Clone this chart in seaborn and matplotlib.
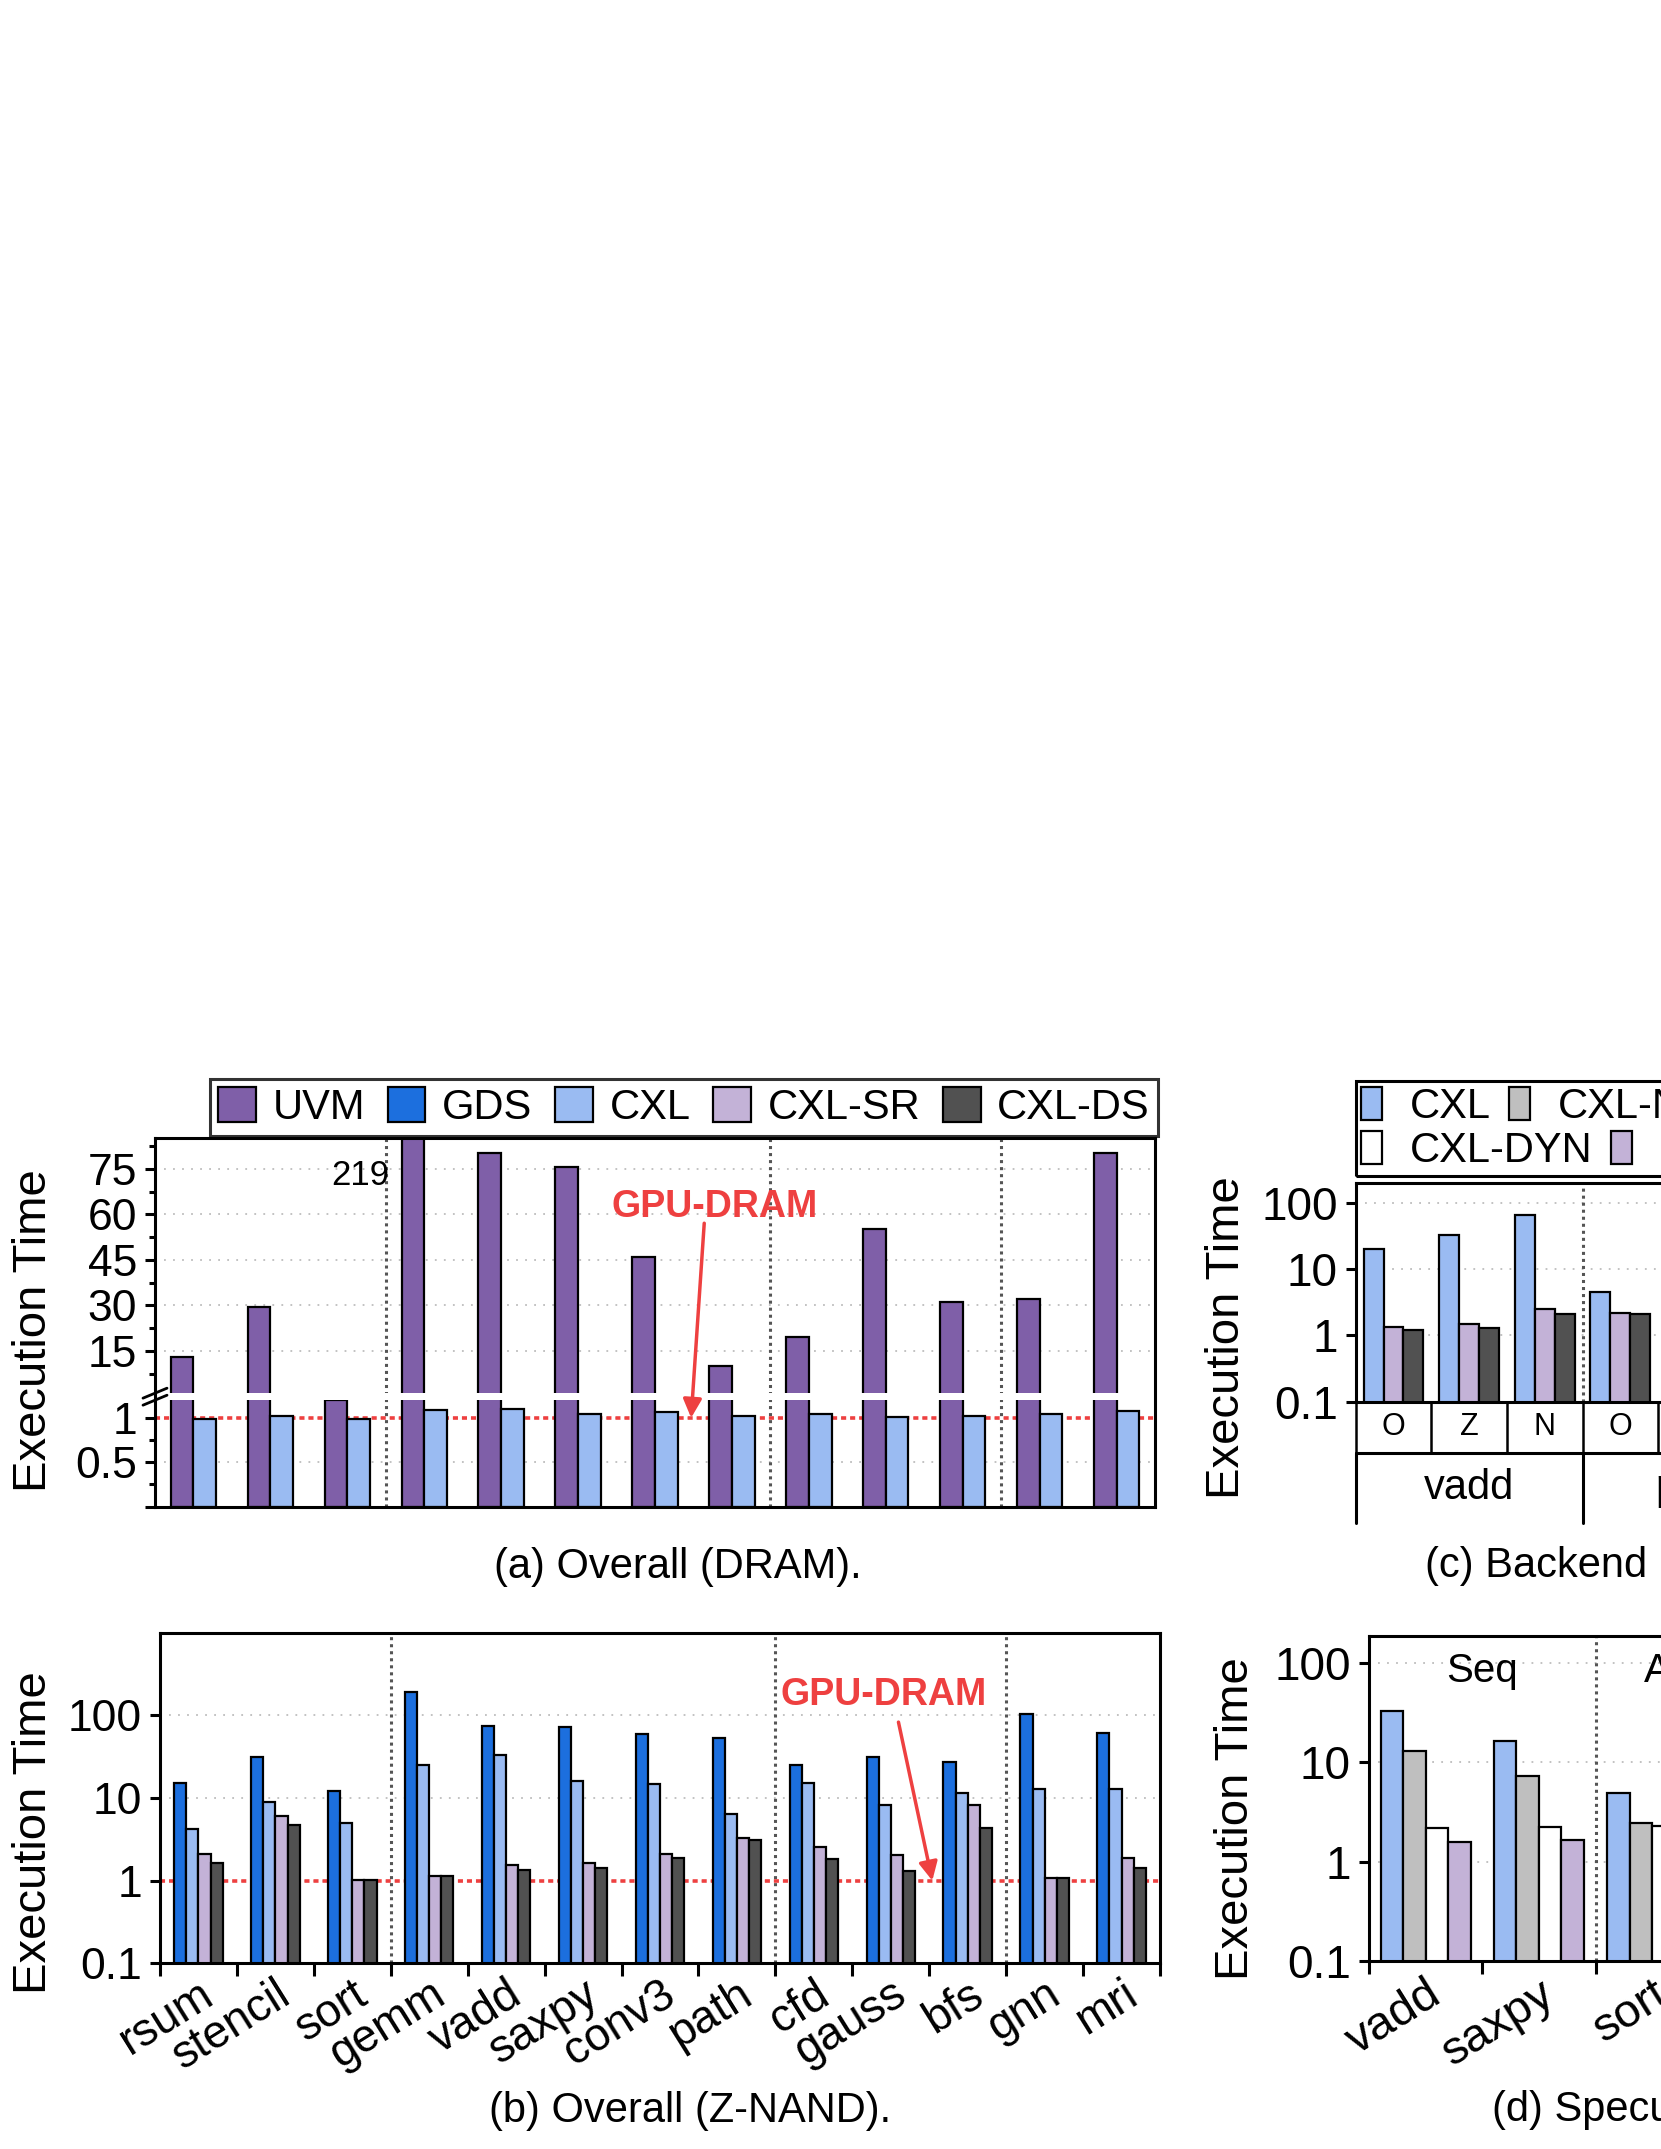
import numpy as np
import pandas as pd
import matplotlib
matplotlib.use("Agg")
import matplotlib.pyplot as plt
import seaborn as sns
from matplotlib.patches import Patch, Rectangle
from matplotlib.ticker import NullLocator
from matplotlib.transforms import blended_transform_factory

# ---------------- data ----------------
apps = ["rsum", "stencil", "sort", "gemm", "vadd", "saxpy", "conv3",
        "path", "cfd", "gauss", "bfs", "gnn", "mri"]

# (a) Overall (DRAM)
dram_uvm = [13.1, 29.6, 1.2, 219, 80.2, 75.8, 46.1, 10.1, 19.4, 55.1, 31.2, 32.2, 80.3]
dram_cxl = [0.99, 1.02, 0.99, 1.085, 1.10, 1.04, 1.06, 1.02, 1.04, 1.01, 1.02, 1.04, 1.08]

# (b) Overall (Z-NAND)
znand_gds = [15.4, 31.7, 12.2, 192, 74, 73, 58.8, 53.7, 25.1, 31.7, 27.6, 104.8, 60.6]
znand_cxl = [4.2, 8.97, 4.97, 24.9, 32.8, 16.1, 14.7, 6.38, 15.4, 8.19, 11.4, 13.0, 13.0]
znand_sr = [2.1, 5.98, 1.03, 1.13, 1.56, 1.62, 2.1, 3.27, 2.53, 2.06, 8.19, 1.07, 1.90]
znand_ds = [1.62, 4.7, 1.03, 1.13, 1.36, 1.42, 1.86, 3.13, 1.83, 1.32, 4.28, 1.07, 1.41]

# (c) Backend
backend_apps = ["vadd", "vadd", "vadd", "path"]
backend_media = ["O", "Z", "N", "O"]
backend_cxl = [20.2, 32.4, 65, 4.46]
backend_sr = [1.32, 1.48, 2.5, 2.17]
backend_ds = [1.22, 1.29, 2.1, 2.1]
backend_groups = ["vadd", "path"]

# (d) Speculative read
spec_apps = ["vadd", "saxpy", "sort"]
spec_cxl = [33, 16.2, 4.95]
spec_ndp = [12.9, 7.2, 2.44]
spec_dyn = [2.19, 2.25, 2.3]
spec_sr = [1.56, 1.63, np.nan]
spec_sections = ["Seq", "Access"]

COLORS = {
    "UVM": "#7F5FA8",
    "GDS": "#1C6FDE",
    "CXL": "#9ABBF2",
    "CXL-SR": "#C3B2D7",
    "CXL-DS": "#515151",
    "CXL-NDP": "#BFBFBF",
    "CXL-DYN": "#FFFFFF",
}
RED = "#EE4040"
SEP = "#555555"

# ---------------- style ----------------
sns.set_style("ticks")
plt.rcParams["font.family"] = ["Liberation Sans", "DejaVu Sans"]
plt.rcParams.update({
    "text.color": "black", "axes.labelcolor": "black",
    "xtick.color": "black", "ytick.color": "black",
    "axes.edgecolor": "black", "axes.linewidth": 2.2,
})

W, H, DPI = 1661, 2149, 100
fig = plt.figure(figsize=(W / DPI, H / DPI), dpi=DPI)


def rect(left, top, right, bottom):
    return [left / W, 1 - bottom / H, (right - left) / W, (bottom - top) / H]


ax_a = fig.add_axes(rect(155, 1137.5, 1155, 1506.7))
ax_b = fig.add_axes(rect(160, 1632.7, 1160, 1963.3))
ax_c = fig.add_axes(rect(1355.7, 1183, 1355.7 + 6 * 75.6, 1401.7))
ax_d = fig.add_axes(rect(1369, 1636.2, 1369 + 5 * 113.3, 1961))


def draw_bars(ax, cats, series, width):
    frames = [pd.DataFrame({"app": cats, "cfg": name, "val": vals}) for name, vals in series.items()]
    df = pd.concat(frames, ignore_index=True).dropna()
    sns.barplot(data=df, x="app", y="val", hue="cfg", order=list(dict.fromkeys(cats)),
                hue_order=list(series), palette={k: COLORS[k] for k in series},
                width=width, edgecolor="black", linewidth=1.6, saturation=1,
                errorbar=None, legend=False, ax=ax, zorder=2)
    ax.set_xlabel("")
    ax.set_ylabel("")


def common_y(ax, size=32):
    ax.set_axisbelow(True)
    ax.yaxis.grid(True, which="major", ls=(0, (1, 4)), color="#BDBDBD", lw=1.3)
    ax.tick_params(axis="y", which="major", direction="out", length=7, width=2.2,
                   labelsize=size, pad=6, left=True)
    ax.tick_params(axis="y", which="minor", direction="out", length=4, width=2.2, left=True)
    for s in ax.spines.values():
        s.set_linewidth(2.2)
        s.set_visible(True)


def ylabel(ax, x, y):
    ax.set_ylabel("Execution Time", fontsize=34, va="center")
    ax.yaxis.set_label_coords(x, y)


def group_xticks(ax, names, n_bound, size, pad):
    # ticks on the group boundaries, names under the group centres
    ax.set_xticks(np.arange(-0.5, n_bound), [""] * (n_bound + 1))
    ax.set_xticks(np.arange(len(names)), names, minor=True, rotation=32,
                  ha="right", rotation_mode="anchor", fontsize=size)
    ax.tick_params(axis="x", which="major", direction="out", length=9, width=2.2, bottom=True)
    ax.tick_params(axis="x", which="minor", length=0, pad=pad, bottom=True)


# ---------------- (a) DRAM, broken axis ----------------
def brk_fwd(v):
    v = np.asarray(v, dtype=float)
    return np.where(v <= 1.2, v * 88.8, 113.4 + (v - 1.0) * 3.027)


def brk_inv(p):
    p = np.asarray(p, dtype=float)
    return np.where(p <= 106.56, p / 88.8,
                    np.where(p >= 114.0, 1.0 + (p - 113.4) / 3.027, 1.2))


draw_bars(ax_a, apps, {"UVM": dram_uvm, "CXL": dram_cxl}, 0.59)
ax_a.set_yscale("function", functions=(brk_fwd, brk_inv))
ax_a.set_ylim(0, 85.4)
ax_a.set_xlim(-0.5, len(apps) - 0.5)
ax_a.set_yticks([0, 0.5, 1, 15, 30, 45, 60, 75],
                ["", "0.5", "1", "15", "30", "45", "60", "75"])
ax_a.set_yticks([0.25, 0.75, 7.5, 22.5, 37.5, 52.5, 67.5, 82.5], minor=True)
ax_a.set_xticks([])
common_y(ax_a)
ylabel(ax_a, -0.121, 0.478)
ax_a.axhline(1, color=RED, ls=(0, (1.4, 1.1)), lw=2.6, zorder=1.5)
for x in (2.5, 7.5, 10.5):
    ax_a.axvline(x, color=SEP, ls=(0, (1, 1.3)), lw=2.2, zorder=1)
# break band and marks
ax_a.add_patch(Rectangle((0, 106.7 / 369.2), 1, 6.7 / 369.2, transform=ax_a.transAxes,
                         facecolor="white", edgecolor="none", zorder=2.3))
for dy in (-0.0095, 0.0095):
    ax_a.plot([-0.012, 0.012], [0.298 + dy - 0.0135, 0.298 + dy + 0.0135],
              transform=ax_a.transAxes, color="black", lw=2, clip_on=False, zorder=3)
ax_a.text(2.54, 73, "219", ha="right", va="center", fontsize=25)
ax_a.text(6.78, 62.6, "GPU-DRAM", color=RED, fontsize=27, fontweight="bold",
          ha="center", va="center")
ax_a.annotate("", xy=(6.47, 1.0), xytext=(6.64, 57.1),
              arrowprops=dict(arrowstyle="-|>", color=RED, lw=2.5, mutation_scale=28,
                              shrinkA=0, shrinkB=0))

fig.legend([Patch(facecolor=COLORS[k], edgecolor="black", lw=1.6)
            for k in ["UVM", "GDS", "CXL", "CXL-SR", "CXL-DS"]],
           ["UVM", "GDS", "CXL", "CXL-SR", "CXL-DS"],
           ncol=5, loc="upper left", bbox_to_anchor=(210 / W, 1 - 1079 / H),
           fontsize=30, frameon=True, fancybox=False, edgecolor="black",
           handlelength=0.9, handleheight=0.9, handletextpad=0.4, columnspacing=0.55,
           borderpad=0.2, borderaxespad=0).get_frame().set_linewidth(2.2)

# ---------------- (b) Z-NAND ----------------
draw_bars(ax_b, apps, {"GDS": znand_gds, "CXL": znand_cxl,
                       "CXL-SR": znand_sr, "CXL-DS": znand_ds}, 0.63)
ax_b.set_yscale("log")
ax_b.set_ylim(0.1, 1000)
ax_b.set_xlim(-0.5, len(apps) - 0.5)
ax_b.set_yticks([0.1, 1, 10, 100], ["0.1", "1", "10", "100"])
ax_b.yaxis.set_minor_locator(NullLocator())
common_y(ax_b)
ylabel(ax_b, -0.126, 0.394)
group_xticks(ax_b, apps, len(apps), 33, 6.5)
ax_b.axhline(1, color=RED, ls=(0, (1.4, 1.1)), lw=2.6, zorder=1.5)
for x in (2.5, 7.5, 10.5):
    ax_b.axvline(x, color=SEP, ls=(0, (1, 1.3)), lw=2.2, zorder=1)
ax_b.text(8.91, 178, "GPU-DRAM", color=RED, fontsize=27, fontweight="bold",
          ha="center", va="center")
ax_b.annotate("", xy=(9.54, 1.0), xytext=(9.1, 82.8),
              arrowprops=dict(arrowstyle="-|>", color=RED, lw=2.5, mutation_scale=28,
                              shrinkA=0, shrinkB=0))

# ---------------- (c) Backend ----------------
c_keys = [f"{a} {m}" for a, m in zip(backend_apps, backend_media)]
draw_bars(ax_c, c_keys, {"CXL": backend_cxl, "CXL-SR": backend_sr, "CXL-DS": backend_ds}, 0.79)
ax_c.set_yscale("log")
ax_c.set_ylim(0.1, 200)
ax_c.set_xlim(-0.5, 5.5)
ax_c.set_yticks([0.1, 1, 10, 100], ["0.1", "1", "10", "100"])
ax_c.yaxis.set_minor_locator(NullLocator())
ax_c.set_xticks([])
common_y(ax_c, 33)
ylabel(ax_c, -0.284, 0.294)
ax_c.axvline(2.5, color=SEP, ls=(0, (1, 1.3)), lw=2.2, zorder=1)
tc = blended_transform_factory(ax_c.transData, ax_c.transAxes)
r1, r2 = -0.233, -0.556
for x in np.arange(-0.5, 6.0, 1.0):
    ax_c.plot([x, x], [0, r1], transform=tc, color="black", lw=1.8, clip_on=False)
for x in (-0.5, 2.5, 5.5):
    ax_c.plot([x, x], [r1, r2], transform=tc, color="black", lw=2.2, clip_on=False)
ax_c.plot([-0.5, 5.5], [r1, r1], transform=tc, color="black", lw=2.2, clip_on=False)
for i, m in enumerate(backend_media):
    ax_c.text(i, r1 / 2, m, transform=tc, ha="center", va="center", fontsize=22)
for j, g in enumerate(backend_groups):
    ax_c.text(3 * j + 1, -0.395, g, transform=tc, ha="center", va="center", fontsize=30)

# legend for (c)/(d): two independent rows inside one frame
leg_kw = dict(loc="upper left", fontsize=30, frameon=False, handlelength=0.5,
              handleheight=0.84, handletextpad=0.66, columnspacing=0.45,
              borderpad=0.1, borderaxespad=0)
row1 = ["CXL", "CXL-NDP", "CXL-DS"]
row2 = ["CXL-DYN", "CXL-SR"]
fig.legend([Patch(facecolor=COLORS[k], edgecolor="black", lw=1.6) for k in row1], row1,
           ncol=len(row1), bbox_to_anchor=(1357 / W, 1 - 1083 / H), **leg_kw)
fig.legend([Patch(facecolor=COLORS[k], edgecolor="black", lw=1.6) for k in row2], row2,
           ncol=len(row2), bbox_to_anchor=(1357 / W, 1 - 1127 / H), **leg_kw)
fig.add_artist(Rectangle((1355.7 / W, 1 - 1176 / H), 0.5, (1176 - 1080.7) / H,
                         transform=fig.transFigure, fill=False, edgecolor="black", lw=2.2))

# ---------------- (d) Speculative read ----------------
draw_bars(ax_d, spec_apps, {"CXL": spec_cxl, "CXL-NDP": spec_ndp,
                            "CXL-DYN": spec_dyn, "CXL-SR": spec_sr}, 0.794)
ax_d.set_yscale("log")
ax_d.set_ylim(0.1, 185)
ax_d.set_xlim(-0.5, 4.5)
ax_d.set_yticks([0.1, 1, 10, 100], ["0.1", "1", "10", "100"])
ax_d.yaxis.set_minor_locator(NullLocator())
common_y(ax_d, 33)
ylabel(ax_d, -0.235, 0.438)
group_xticks(ax_d, spec_apps, 5, 34, 8)
ax_d.axvline(1.5, color=SEP, ls=(0, (1, 1.3)), lw=2.2, zorder=1)
for j, s in enumerate(spec_sections):
    ax_d.text(2 * j + 0.5, 83, s, ha="center", va="center", fontsize=29)

# ---------------- captions ----------------
fig.text(678 / W, 1 - 1567 / H, "(a) Overall (DRAM).", ha="center", va="center", fontsize=30)
fig.text(690 / W, 1 - 2111 / H, "(b) Overall (Z-NAND).", ha="center", va="center", fontsize=30)
fig.text(1425 / W, 1 - 1566 / H, "(c) Backend media.", ha="left", va="center", fontsize=30)
fig.text(1491.7 / W, 1 - 2110 / H, "(d) Speculative read.", ha="left", va="center", fontsize=30)

fig.savefig("out.png", dpi=DPI, facecolor="white")
